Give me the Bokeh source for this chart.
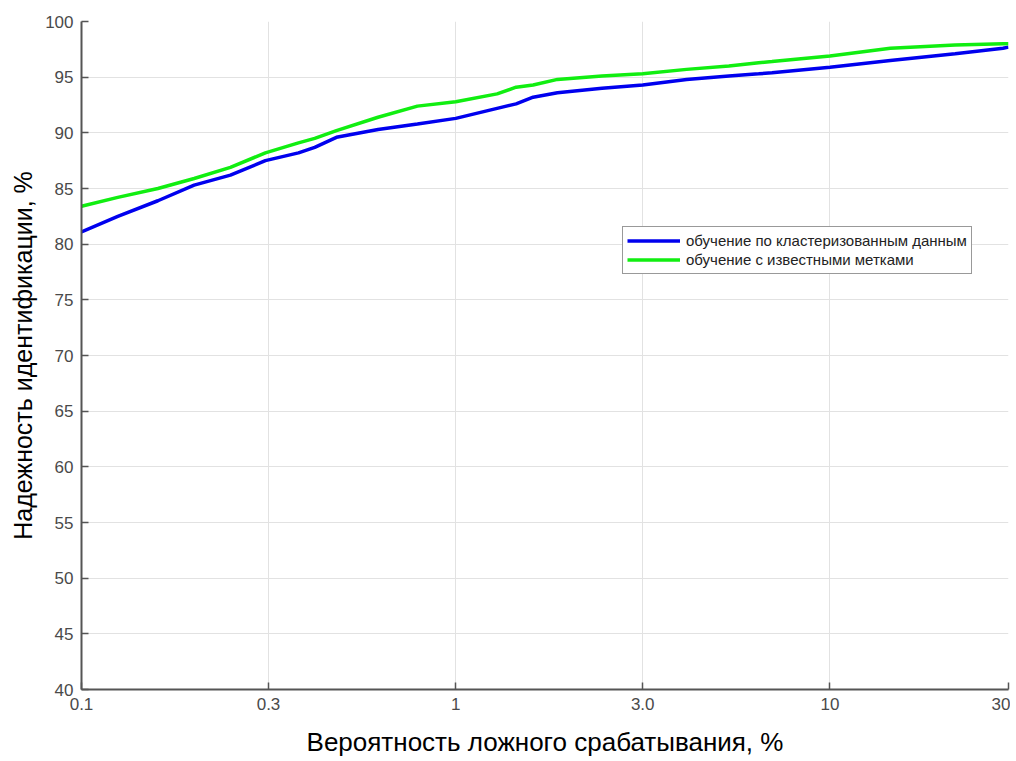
from bokeh.plotting import figure
from bokeh.models import FixedTicker, Legend, LegendItem, ColumnDataSource
from bokeh.embed import file_html
from bokeh.resources import INLINE

# False-alarm probability, %
fpr = [0.1, 0.125, 0.16, 0.2, 0.25, 0.31, 0.38, 0.42, 0.48, 0.62, 0.79, 1.0, 1.29,
       1.45, 1.61, 1.87, 2.46, 3.16, 4.14, 5.37, 6.45, 7.0, 10.0, 14.5, 21.6, 29.0, 30.0]
# identification reliability, % — training on clustered data
clustered = [81.1, 82.5, 83.9, 85.3, 86.2, 87.5, 88.2, 88.7, 89.6, 90.3, 90.8, 91.3, 92.2,
             92.6, 93.2, 93.6, 94.0, 94.3, 94.8, 95.1, 95.3, 95.4, 95.9, 96.5, 97.1, 97.6, 97.7]
# identification reliability, % — training with known labels
known = [83.4, 84.2, 85.0, 85.9, 86.9, 88.2, 89.1, 89.5, 90.2, 91.4, 92.4, 92.8, 93.5,
         94.1, 94.3, 94.8, 95.1, 95.3, 95.7, 96.0, 96.3, 96.4, 96.9, 97.6, 97.9, 98.0, 98.0]

x_ticks = [0.1, 0.316, 1.0, 3.16, 10.0, 30.0]
x_tick_labels = ["0.1", "0.3", "1", "3.0", "10", "30"]
y_ticks = list(range(40, 101, 5))

series_names = ["обучение по кластеризованным данным", "обучение с известными метками"]
x_title = "Вероятность ложного срабатывания, %"
y_title = "Надежность идентификации, %"

FONT = "Liberation Sans"

p = figure(width=1010, height=760, x_axis_type="log", x_range=(0.1, 30), y_range=(40, 100),
           output_backend="svg", toolbar_location=None,
           min_border_left=81, min_border_right=2, min_border_top=21, min_border_bottom=71)
p.outline_line_color = None
p.background_fill_color = "white"
p.border_fill_color = "white"

src = ColumnDataSource(dict(x=fpr, a=clustered, b=known))
r1 = p.line("x", "a", source=src, line_color="#0000EE", line_width=3.5)
r2 = p.line("x", "b", source=src, line_color="#11EE11", line_width=3.5)

p.xaxis.ticker = FixedTicker(ticks=x_ticks)
p.xaxis.major_label_overrides = {t: l for t, l in zip(x_ticks, x_tick_labels)}
p.yaxis.ticker = FixedTicker(ticks=y_ticks)
p.xaxis.minor_tick_line_color = None
p.yaxis.minor_tick_line_color = None

for ax in (p.xaxis[0], p.yaxis[0]):
    ax.axis_line_color = "#555555"
    ax.axis_line_width = 2
    ax.major_tick_line_color = "#555555"
    ax.major_tick_line_width = 1.5
    ax.major_tick_in = 7
    ax.major_tick_out = 0
    ax.major_label_text_font = FONT
    ax.major_label_text_font_size = "17px"
    ax.major_label_text_color = "#4a4a4a"
    ax.axis_label_text_font = FONT
    ax.axis_label_text_font_style = "normal"
    ax.axis_label_text_color = "black"

p.xaxis.axis_label = x_title
p.yaxis.axis_label = y_title
p.xaxis.axis_label_text_font_size = "26px"
p.yaxis.axis_label_text_font_size = "25px"
p.xaxis.major_label_standoff = 8
p.yaxis.major_label_standoff = 8
p.xaxis.axis_label_standoff = 14
p.yaxis.axis_label_standoff = 5

p.grid.grid_line_color = "#e2e2e2"
p.grid.grid_line_width = 1
p.xgrid.ticker = FixedTicker(ticks=x_ticks)
p.ygrid.ticker = FixedTicker(ticks=y_ticks)

legend = Legend(items=[LegendItem(label=series_names[0], renderers=[r1]),
                       LegendItem(label=series_names[1], renderers=[r2])],
                location=(541, 415), orientation="vertical",
                padding=4, spacing=0, margin=0, glyph_width=53, glyph_height=19,
                label_standoff=6, label_height=19,
                label_text_font=FONT, label_text_font_size="15px", label_text_color="#222222",
                border_line_color="#333333", border_line_width=1.2,
                background_fill_color="white", background_fill_alpha=1.0)
p.add_layout(legend, "center")

open("out.html", "w").write(file_html(p, INLINE))
